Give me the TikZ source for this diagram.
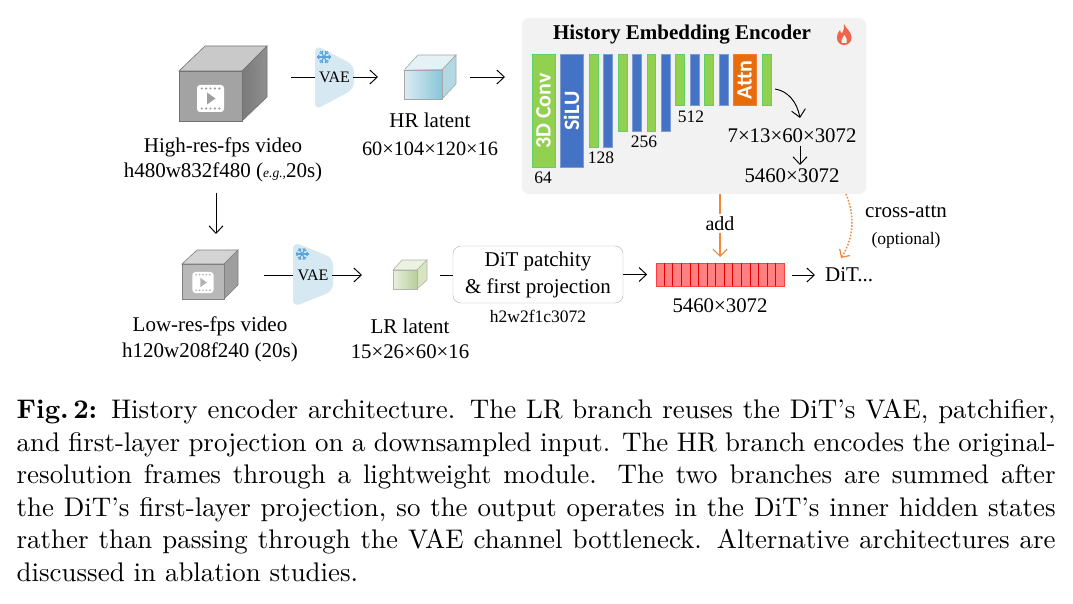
\documentclass[tikz,border=0pt]{standalone}
\usepackage{fontspec}
\setmainfont{Liberation Serif}
\newfontfamily\capfont{lmroman10-regular}[Extension=.otf, BoldFont=lmroman10-bold]
\newfontfamily\barfont[BoldFont=Carlito Bold]{Carlito}
\usetikzlibrary{arrows.meta,calc}

\definecolor{panelgray}{HTML}{F2F2F2}
\definecolor{convgreen}{HTML}{92D050}
\definecolor{convedge}{HTML}{5FCF6A}
\definecolor{silublue}{HTML}{4472C4}
\definecolor{attnorange}{HTML}{E96C0C}
\definecolor{vaeblue}{HTML}{D6E8F1}
\definecolor{flakeblue}{HTML}{5AA5DC}
\definecolor{linkorange}{HTML}{EE8A3A}
\definecolor{flamered}{HTML}{F0654A}
\definecolor{hrleft}{HTML}{DCEBF2}
\definecolor{hrmid}{HTML}{88C6D9}
\definecolor{hrtop}{HTML}{E4F1F5}
\definecolor{hrside}{HTML}{B2D9E3}
\definecolor{lrleft}{HTML}{E8F0DE}
\definecolor{lrright}{HTML}{B8CF9A}
\definecolor{lrtop}{HTML}{EBF2DF}
\definecolor{lrside}{HTML}{D6E4BF}

\tikzset{
  x=1pt, y=-1pt,
  lbl/.style={font=\fontsize{21}{24}\selectfont, inner sep=0pt},
  num/.style={font=\fontsize{20.8}{24}\selectfont, inner sep=0pt},
  small/.style={font=\fontsize{17.5}{20}\selectfont, inner sep=0pt},
  link/.style={line width=0.95pt, -{Straight Barb[length=7.5pt,width=14pt,line width=0.95pt]}},
  plainlink/.style={line width=0.95pt},
  orangelink/.style={line width=1.2pt, linkorange, -{Straight Barb[length=7pt,width=14pt,line width=1.2pt]}},
  greenbar/.style={fill=convgreen, draw=convedge, line width=0.8pt},
  bluebar/.style={fill=silublue, draw=silublue!70!white, line width=0.6pt},
  barword/.style={text=white, rotate=90, inner sep=0pt, font=\barfont\bfseries\fontsize{22}{24}\selectfont},
  vaeshape/.style={fill=vaeblue, rounded corners=7pt},
  vaeword/.style={font=\fontsize{16}{18}\selectfont, inner sep=0pt},
}

% Film strip symbol with a play triangle: centre, half size
\newcommand{\filmicon}[4]{%
  \begin{scope}[shift={(#1,#2)}, scale=#3]
    \fill[white, rounded corners=3pt] (-13.5,-13.5) rectangle (13.5,13.5);
    \foreach \dx in {-8.8,-4.4,0,4.4,8.8} {
      \fill[#4] (\dx,-10) circle (1.2);
      \fill[#4] (\dx,10) circle (1.2);
    }
    \fill[#4] (-3.5,-6) -- (5,0) -- (-3.5,6) -- cycle;
  \end{scope}}

% Six-armed snowflake: centre, radius
\newcommand{\flake}[3]{%
  \begin{scope}[shift={(#1,#2)}, flakeblue, line width=1.1pt]
    \foreach \a in {0,60,...,300} {
      \draw (0,0) -- (\a:#3);
      \draw (\a:0.55*#3) -- ($(\a:0.55*#3)+(\a+45:0.4*#3)$);
      \draw (\a:0.55*#3) -- ($(\a:0.55*#3)+(\a-45:0.4*#3)$);
    }
  \end{scope}}

\begin{document}
\begin{tikzpicture}
\path[use as bounding box, fill=white] (0,0) rectangle (1073,604);

% ---- high resolution video cube
\filldraw[fill=black!21, draw=black!55, line width=0.6pt] (179,71) -- (205,46) -- (267,46) -- (242,71) -- cycle;
\shade[left color=black!52, right color=black!44, draw=black!55, line width=0.6pt] (242,71) -- (267,46) -- (267,97) -- (242,121) -- cycle;
\node[draw=black!55, fill=black!36, line width=0.6pt, minimum width=63pt, minimum height=50pt, inner sep=0pt] (hrcube) at (210.5,96) {};
\filmicon{210.5}{98.5}{1}{black!38}
\node[lbl] (hrname) at (223,147) {High-res-fps video};
\node[lbl] (hrsize) at (223,172) {h480w832f480 ({\fontsize{13.5}{16}\selectfont\itshape e.g.,}20s)};

% ---- first VAE
\coordinate (vaeAin) at (315,77);
\coordinate (vaeAout) at (353,77);
\coordinate (hrstart) at (291,77);
\coordinate (hrvaeend) at (378,77);
\draw[plainlink] (hrstart) -- (vaeAin);
\fill[vaeshape] (315,45) -- (354,65) -- (354,89) -- (315,110) -- cycle;
\flake{324}{57}{7}
\node[vaeword] (vaeA) at (334.5,77) {VAE};
\draw[link] (vaeAout) -- (hrvaeend);

% ---- HR latent cube
\filldraw[fill=hrtop, draw=black!35, line width=0.6pt] (404,70) -- (418,55) -- (456,55) -- (442,70) -- cycle;
\filldraw[fill=hrside, draw=black!35, line width=0.6pt] (442,70) -- (456,55) -- (456,84) -- (442,99) -- cycle;
\shade[left color=hrleft, right color=hrmid, draw=black!35, line width=0.6pt] (404,70) rectangle (442,99);
\node[lbl] (hrlatent) at (430,120) {HR latent};
\node[font=\fontsize{20.3}{24}\selectfont, inner sep=0pt] (hrlatentsize) at (430,149) {60×104×120×16};
\coordinate (hrout) at (470,77);
\coordinate (panelin) at (505,77);
\draw[link] (hrout) -- (panelin);

% ---- history embedding encoder panel
\node[fill=panelgray, rounded corners=7pt, minimum width=344pt, minimum height=176pt, inner sep=0pt] (panel) at (694,106) {};
\node[inner sep=0pt, font=\bfseries\fontsize{21}{24}\selectfont] (paneltitle) at (682,35) {History Embedding Encoder};
\fill[flamered] (844,24) .. controls (846,29) and (851,31) .. (851.5,37)
  .. controls (852,42) and (848,45) .. (844,45)
  .. controls (840,45) and (836.5,42) .. (837,37)
  .. controls (837.3,33.5) and (839,31.5) .. (840,30)
  .. controls (840.5,32) and (841,33) .. (842,33.5)
  .. controls (843.5,31) and (844.5,27.5) .. (844,24) -- cycle;
\fill[panelgray] (844.5,35) .. controls (846,38) and (848,40) .. (846.5,43) -- (842,43) .. controls (840.5,41) and (842.5,38) .. (844.5,35) -- cycle;

\path[greenbar] (532,54) rectangle (555,167);
\node[barword] (convword) at (543.5,111) {3D Conv};
\path[bluebar] (560,54) rectangle (583,167);
\node[barword] (siluword) at (571.5,111) {SiLU};
\path[greenbar] (589,54) rectangle (598,147);
\path[bluebar] (603,54) rectangle (612,147);
\path[greenbar] (618,54) rectangle (627,131);
\path[bluebar] (632,54) rectangle (641,131);
\path[greenbar] (647,54) rectangle (655,131);
\path[bluebar] (661,54) rectangle (670,131);
\path[greenbar] (675,54) rectangle (684,105);
\path[bluebar] (690,54) rectangle (699,105);
\path[greenbar] (704,54) rectangle (713,105);
\path[bluebar] (719,54) rectangle (728,105);
\path[fill=attnorange, draw=attnorange!85!white, line width=0.6pt] (733,54) rectangle (756,105);
\node[barword] (attnword) at (744.5,80) {Attn};
\path[greenbar] (762,54) rectangle (771,105);

\node[small] (n64) at (543,178) {64};
\node[small] (n128) at (601,158) {128};
\node[small] (n256) at (644,142) {256};
\node[small] (n512) at (691,117) {512};
\node[num] (gridsize) at (792,136) {7×13×60×3072};
\node[num] (tokensize) at (792,176) {5460×3072};
\coordinate (attnout) at (775,89);
\coordinate (gridtop) at (800,118);
\draw[link] (attnout) .. controls (788,91) and (797,102) .. (gridtop);
\coordinate (gridbottom) at (800,146);
\coordinate (tokentop) at (800,165);
\draw[link] (gridbottom) -- (tokentop);

% ---- downsampling arrow
\coordinate (downstart) at (216,193);
\coordinate (downend) at (216,234);
\draw[link] (downstart) -- (downend);

% ---- low resolution video cube
\filldraw[fill=black!17, draw=black!50, line width=0.6pt] (182,264) -- (197,250) -- (238,250) -- (224,264) -- cycle;
\filldraw[fill=black!38, draw=black!50, line width=0.6pt] (224,264) -- (238,250) -- (238,285) -- (224,299) -- cycle;
\node[draw=black!50, fill=black!28, line width=0.6pt, minimum width=42pt, minimum height=35pt, inner sep=0pt] (lrcube) at (203,281.5) {};
\filmicon{203}{282.5}{0.78}{black!30}
\node[lbl] (lrname) at (210,326) {Low-res-fps video};
\node[lbl] (lrsize) at (210,352) {h120w208f240 (20s)};

% ---- second VAE
\coordinate (vaeBin) at (293,275);
\coordinate (vaeBout) at (332,275);
\coordinate (lrstart) at (264,275);
\coordinate (lrvaeend) at (362,275);
\draw[plainlink] (lrstart) -- (vaeBin);
\fill[vaeshape] (293,242) -- (333,258) -- (333,291) -- (293,307) -- cycle;
\flake{302}{254}{6.5}
\node[vaeword] (vaeB) at (313,275) {VAE};
\draw[link] (vaeBout) -- (lrvaeend);

% ---- LR latent cube
\filldraw[fill=lrtop, draw=black!30, line width=0.6pt] (393,270) -- (402,260) -- (427,260) -- (417,270) -- cycle;
\filldraw[fill=lrside, draw=black!30, line width=0.6pt] (417,270) -- (427,260) -- (427,280) -- (417,289) -- cycle;
\shade[left color=lrleft, right color=lrright, draw=black!30, line width=0.6pt] (393,270) rectangle (417,289);
\node[lbl] (lrlatent) at (410,326) {LR latent};
\node[num] (lrlatentsize) at (410,352) {15×26×60×16};

% ---- patchify box
\node[draw=black!30, fill=white, rounded corners=8pt, minimum width=170pt, minimum height=57pt, inner sep=0pt, align=center, font=\fontsize{21}{27}\selectfont] (patch) at (538,274.5) {DiT patchity\\\& first projection};
\coordinate (lrout) at (440,275);
\draw[plainlink] (lrout) -- (patch.west |- lrout);
\node[small] (patchsize) at (538,316) {h2w2f1c3072};

% ---- token strip
\node[draw=red!75!white, fill=red!50!white, line width=0.8pt, minimum width=128pt, minimum height=23pt, inner sep=0pt] (tokens) at (720,274.5) {};
\foreach \i in {1,...,14} {
  \draw[red!90!black, line width=0.8pt] ($(tokens.north west)!\i/15!(tokens.north east)$) -- ($(tokens.south west)!\i/15!(tokens.south east)$);
}
\node[num] (tokenstrip) at (720,306) {5460×3072};
\draw[link] (patch.east |- tokens.west) -- ++(24,0) coordinate (tokenarrow);

% ---- merge into the strip
\coordinate (addend) at (720,257);
\node[inner sep=2pt, font=\fontsize{20}{22}\selectfont] (addword) at (720,223.5) {add};
\draw[line width=1.2pt, linkorange] (panel.south -| addword) -- (addword.north);
\draw[orangelink] (addword.south) -- (addend);

% ---- output
\node[anchor=west, inner sep=0pt, font=\fontsize{21}{24}\selectfont] (dit) at (825,275) {DiT...};
\coordinate (ditin) at (792,275);
\coordinate (ditend) at (815,275);
\draw[link] (ditin) -- (ditend);

% ---- optional cross attention
\coordinate (crossfrom) at (846,194);
\coordinate (crossto) at (841,258);
\draw[line width=1.5pt, linkorange, dash pattern=on 1.6pt off 1.6pt, -{Straight Barb[length=6pt,width=12pt,line width=1.2pt]}] (crossfrom) .. controls (855,215) and (854,238) .. (crossto);
\node[inner sep=0pt, font=\fontsize{21}{22}\selectfont] (crossword) at (906,212) {cross-attn};
\node[small] (crossnote) at (906,240) {(optional)};

% ---- figure caption
\node[anchor=north west, inner sep=0pt, text width=1039pt, align=justify, font=\capfont\fontsize{26.9}{32.5}\selectfont] (caption) at (16.5,399.5) {%
{\bfseries Fig.\,2:} History encoder architecture. The LR branch reuses the DiT’s VAE, patchifier,\linebreak
and first-layer projection on a downsampled input. The HR branch encodes the original-\linebreak
resolution frames through a lightweight module. The two branches are summed after\linebreak
the DiT’s first-layer projection, so the output operates in the DiT’s inner hidden states\linebreak
rather than passing through the VAE channel bottleneck. Alternative architectures are\linebreak
discussed in ablation studies.};
\end{tikzpicture}
\end{document}
